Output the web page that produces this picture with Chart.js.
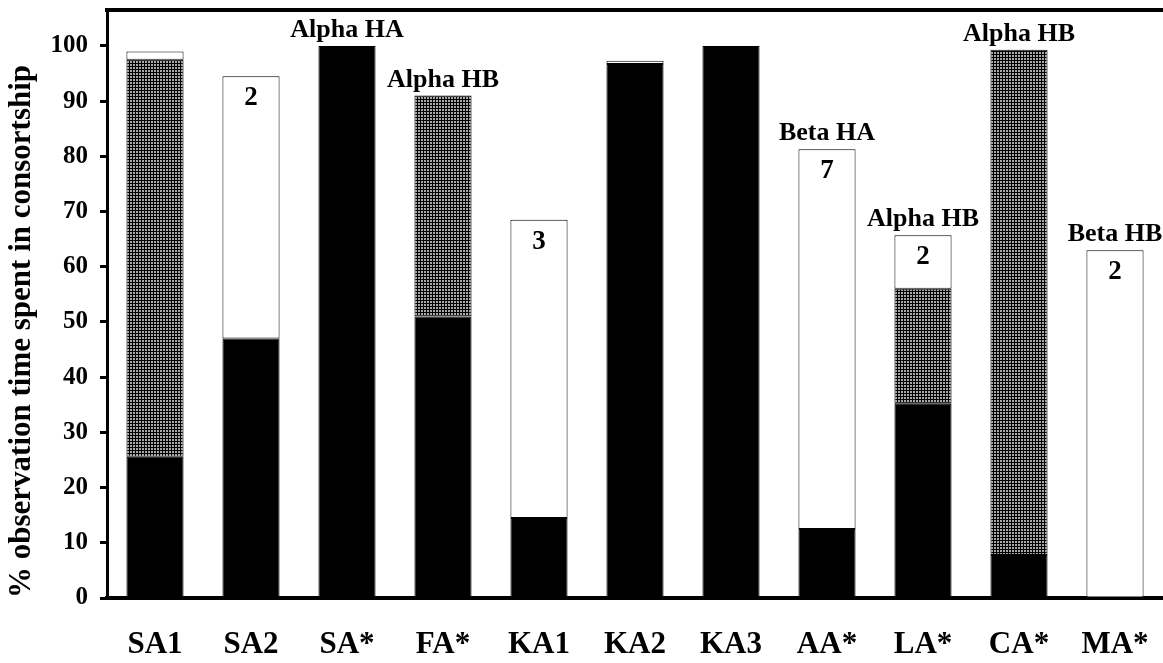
<!DOCTYPE html>
<html>
<head>
<meta charset="utf-8">
<script src="https://cdn.jsdelivr.net/npm/chart.js@4.4.1/dist/chart.umd.min.js"></script>
<style>
  html, body { margin: 0; padding: 0; background: #fff; }
  #wrap { width: 1163px; height: 663px; }
</style>
</head>
<body>
<div id="wrap"><canvas id="consortChart" width="1163" height="663"></canvas></div>
<script>
// categories and stacked segments (% of observation time)
const categories = ['SA1', 'SA2', 'SA*', 'FA*', 'KA1', 'KA2', 'KA3', 'AA*', 'LA*', 'CA*', 'MA*'];
const blackSeg  = [25.6, 47.0, 100, 51.0, 14.5, 96.7, 100, 12.5, 35.2, 7.8, 0];
const dottedSeg = [71.9, 0, 0, 40.0, 0, 0, 0, 0, 20.8, 91.5, 0];
const whiteSeg  = [1.5, 47.5, 0, 0, 54.0, 0.6, 0, 68.8, 9.7, 0, 63.0];
const rankLabels  = ['', '', 'Alpha HA', 'Alpha HB', '', '', '', 'Beta HA', 'Alpha HB', 'Alpha HB', 'Beta HB'];
const countLabels = ['', '2', '', '', '3', '', '', '7', '2', '', '2'];
const yTicks = [0, 10, 20, 30, 40, 50, 60, 70, 80, 90, 100];

const serif = '"Liberation Serif", "Times New Roman", serif';

// fine dotted fill like the original (dark mesh with light dots)
const makePattern = () => {
    const c = document.createElement('canvas');
    c.width = 3; c.height = 3;
    const g = c.getContext('2d');
    g.fillStyle = '#000';
    g.fillRect(0, 0, 3, 3);
    g.fillStyle = '#a8a8a8';
    g.fillRect(1, 1, 2, 2);
    return g.createPattern(c, 'repeat');
};

const orNull = arr => arr.map(v => v === 0 ? null : v);

const frameAndLabels = {
    id: 'frameAndLabels',
    afterDatasetsDraw(chart) {
        const { ctx, chartArea, scales } = chart;
        ctx.save();
        // top frame line
        ctx.strokeStyle = '#000';
        ctx.lineWidth = 4;
        ctx.beginPath();
        ctx.moveTo(chartArea.left - 2, chartArea.top);
        ctx.lineTo(chart.width, chartArea.top);
        ctx.stroke();

        ctx.fillStyle = '#000';
        ctx.textAlign = 'center';
        categories.forEach((cat, i) => {
            const total = blackSeg[i] + dottedSeg[i] + whiteSeg[i];
            const x = scales.x.getPixelForValue(i);
            const yTop = scales.y.getPixelForValue(total);
            if (rankLabels[i]) {
                ctx.font = 'bold 26px ' + serif;
                ctx.textBaseline = 'alphabetic';
                ctx.fillText(rankLabels[i], x, yTop - 9);
            }
            if (countLabels[i]) {
                ctx.font = 'bold 27px ' + serif;
                ctx.textBaseline = 'middle';
                ctx.fillText(countLabels[i], x, yTop + 22);
            }
        });
        ctx.restore();
    }
};

document.addEventListener('DOMContentLoaded', () => {
    const ctx = document.getElementById('consortChart').getContext('2d');
    const dotted = makePattern();
    const barOpts = { borderColor: '#000', borderWidth: 1, borderSkipped: false, barPercentage: 0.595, categoryPercentage: 1.0 };

    new Chart(ctx, {
        type: 'bar',
        data: {
            labels: categories,
            datasets: [
                Object.assign({ label: 'black', data: orNull(blackSeg), backgroundColor: '#000' }, barOpts),
                Object.assign({ label: 'dotted', data: orNull(dottedSeg), backgroundColor: dotted }, barOpts),
                Object.assign({ label: 'white', data: orNull(whiteSeg), backgroundColor: '#fff' }, barOpts)
            ]
        },
        options: {
            responsive: false,
            animation: false,
            layout: { padding: { top: 10, right: 0, left: 0, bottom: 0 } },
            plugins: { legend: { display: false }, tooltip: { enabled: false } },
            scales: {
                x: {
                    stacked: true,
                    grid: { display: false, drawTicks: false },
                    border: { display: true, color: '#000', width: 4 },
                    ticks: { color: '#000', font: { family: serif, weight: 'bold', size: 31 }, padding: 28, maxRotation: 0 },
                    afterFit(scale) {
                        scale.height = 65;
                        scale.paddingLeft = 0;
                        scale.paddingRight = 0;
                    }
                },
                y: {
                    stacked: true,
                    min: 0,
                    max: 106.5,
                    afterBuildTicks(scale) { scale.ticks = yTicks.map(v => ({ value: v })); },
                    grid: { drawOnChartArea: false, drawTicks: true, tickLength: 7, tickWidth: 3, color: '#000' },
                    border: { display: true, color: '#000', width: 3 },
                    ticks: { color: '#000', font: { family: serif, weight: 'bold', size: 25 }, padding: 12 },
                    title: {
                        display: true,
                        text: '% observation time spent in consortship',
                        align: 'start',
                        color: '#000',
                        font: { family: serif, weight: 'bold', size: 31 },
                        padding: { top: 3, bottom: 0 }
                    },
                    afterFit(scale) {
                        scale.width = 107;
                        scale.paddingTop = 0;
                    }
                }
            }
        },
        plugins: [frameAndLabels]
    });
});
</script>
</body>
</html>
